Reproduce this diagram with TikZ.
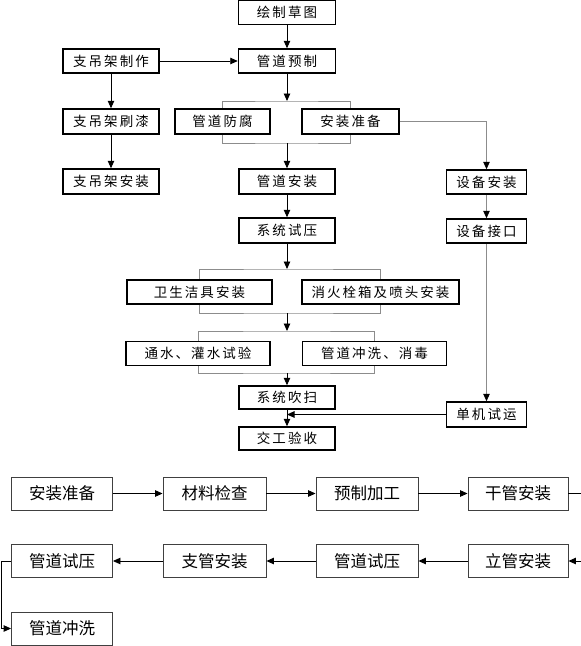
\documentclass[tikz,border=0pt]{standalone}
\usepackage{fontspec}
\newfontfamily\cjk{Noto Sans CJK SC}
\usetikzlibrary{arrows.meta,backgrounds}
\begin{document}
\begin{tikzpicture}[x=1pt,y=-1pt,
  tbox/.style={draw=black,line width=1.5pt,fill=white,inner sep=0pt,minimum height=24,
    font=\cjk\fontsize{13.5}{15}\selectfont\addfontfeatures{LetterSpace=15}},
  bbox/.style={draw=black!75,line width=0.9pt,fill=white,inner sep=0pt,minimum width=101,minimum height=33,
    font=\cjk\fontsize{16.5}{18}\selectfont},
  arr/.style={line width=0.9pt,-{Triangle[length=7.5pt,width=6.5pt]}},
  garr/.style={line width=0.9pt,draw=black!45,-{Triangle[length=7.5pt,width=6.5pt,color=black]}},
  brk/.style={draw=black!45,line width=0.9pt}]
\useasboundingbox (0,0) rectangle (581,646);
% top section
\node[tbox,minimum width=97] (hz) at (287,12.5) {绘制草图};
\node[tbox,minimum width=97] (gdyz) at (287,61) {管道预制};
\node[tbox,minimum width=96] (zzz) at (111,61) {支吊架制作};
\node[tbox,minimum width=96,minimum height=25] (zsq) at (111,121.5) {支吊架刷漆};
\node[tbox,minimum width=95,minimum height=25] (gdff) at (222.5,121.5) {管道防腐};
\node[tbox,minimum width=97,minimum height=25] (azzb) at (350.5,121.5) {安装准备};
\node[tbox,minimum width=96,minimum height=25] (zaz) at (111,181.5) {支吊架安装};
\node[tbox,minimum width=96,minimum height=25] (gdaz) at (287,181.5) {管道安装};
\node[tbox,minimum width=80] (sbaz) at (486.5,182) {设备安装};
\node[tbox,minimum width=96,minimum height=25] (xtsy) at (287,230.5) {系统试压};
\node[tbox,minimum width=80] (sbjk) at (486.5,231) {设备接口};
\node[tbox,minimum width=145] (wsjj) at (199.5,292) {卫生洁具安装};
\node[tbox,minimum width=157] (xhs) at (380.5,292) {消火栓箱及喷头安装};
\node[tbox,minimum width=144] (tsgs) at (198,353.5) {通水、灌水试验};
\node[tbox,minimum width=144] (gdcx) at (374.5,353.5) {管道冲洗、消毒};
\node[tbox,minimum width=96,minimum height=23] (xtcs) at (287,397.5) {系统吹扫};
\node[tbox,minimum width=96,minimum height=23] (jgys) at (287,438.5) {交工验收};
\node[tbox,minimum width=80,minimum height=25] (djsy) at (486.5,414.5) {单机试运};
% bracket coordinates
\coordinate (b1t) at (287,101);
\coordinate (b1b) at (287,143);
\coordinate (b2t) at (287,269);
\coordinate (b2b) at (287,313);
\coordinate (b3t) at (287,331);
\coordinate (b3b) at (287,373);
\begin{scope}[on background layer]
\draw[brk] (gdff.center) |- (b1t) -| (azzb.center);
\draw[brk] (gdff.center) |- (b1b) -| (azzb.center);
\draw[brk] (wsjj.center) |- (b2t) -| (xhs.center);
\draw[brk] (wsjj.center) |- (b2b) -| (xhs.center);
\draw[brk] (tsgs.center) |- (b3t) -| (gdcx.center);
\draw[brk] (tsgs.center) |- (b3b) -| (gdcx.center);
\end{scope}
% connectors
\draw[arr] (hz) -- (gdyz);
\draw[arr] (zzz) -- (gdyz);
\draw[arr] (zzz) -- (zsq);
\draw[arr] (zsq) -- (zaz);
\draw[arr] (gdyz) -- (b1t);
\draw[arr] (b1b) -- (gdaz);
\draw[garr] (azzb.east) -| (sbaz.north);
\draw[arr] (gdaz) -- (xtsy);
\draw[garr] (sbaz) -- (sbjk);
\draw[arr] (xtsy) -- (b2t);
\draw[arr] (b2b) -- (b3t);
\draw[arr] (b3b) -- (xtcs);
\draw[arr] (xtcs) -- (jgys);
\draw[garr] (sbjk) -- (djsy);
\draw[arr] (djsy.west) -- (djsy.west -| xtcs.south);
% bottom section
\node[bbox] (a1) at (62,493.5) {安装准备};
\node[bbox,minimum width=103] (a2) at (214.5,493.5) {材料检查};
\node[bbox,minimum width=102] (a3) at (367,493.5) {预制加工};
\node[bbox,minimum width=100] (a4) at (518,493.5) {干管安装};
\node[bbox] (c1) at (62,561) {管道试压};
\node[bbox,minimum width=103] (c2) at (214.5,561) {支管安装};
\node[bbox,minimum width=102] (c3) at (367,561) {管道试压};
\node[bbox,minimum width=100] (c4) at (518,561) {立管安装};
\node[bbox] (d1) at (62,628.5) {管道冲洗};
\coordinate (re1) at (581,493.5);
\coordinate (re2) at (581,561);
\coordinate (le) at (1,561);
\draw[arr] (a1) -- (a2);
\draw[arr] (a2) -- (a3);
\draw[arr] (a3) -- (a4);
\draw[line width=0.9pt] (a4.east) -- (re1);
\draw[arr] (re2) -- (c4.east);
\draw[arr] (c4) -- (c3);
\draw[arr] (c3) -- (c2);
\draw[arr] (c2) -- (c1);
\draw[arr] (c1.west) -- (le) |- (d1.west);
\end{tikzpicture}
\end{document}
